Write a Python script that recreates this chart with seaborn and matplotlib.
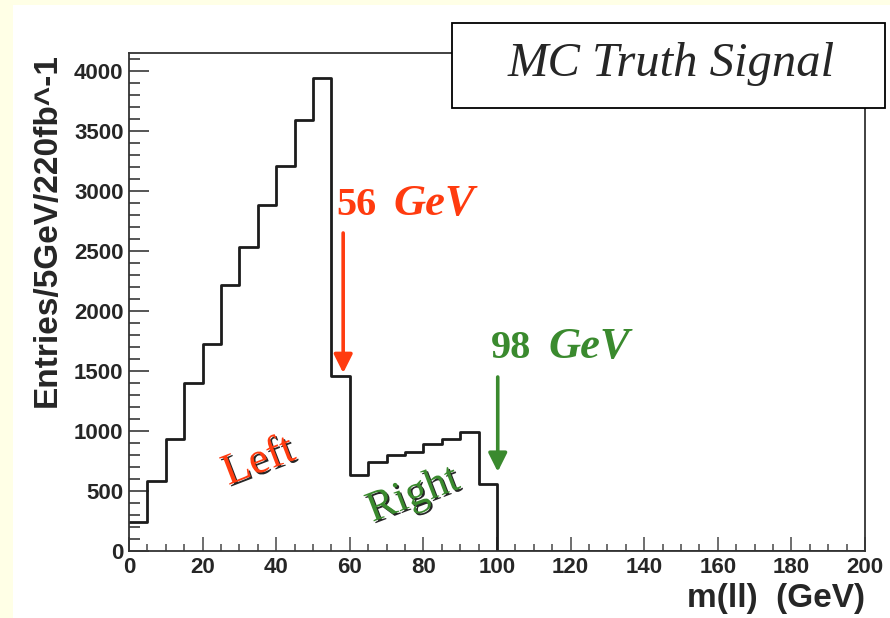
import numpy as np
import pandas as pd
import matplotlib
matplotlib.use("Agg")
import matplotlib.pyplot as plt
import matplotlib.patheffects as pe
from matplotlib.patches import Rectangle
from matplotlib.ticker import MultipleLocator
import seaborn as sns

# ---------------- data ----------------
bin_low = [0, 5, 10, 15, 20, 25, 30, 35, 40, 45, 50, 55, 60, 65, 70, 75, 80, 85, 90, 95]
entries = [240, 580, 930, 1400, 1725, 2220, 2535, 2885, 3210, 3590, 3940, 1455,
           635, 740, 800, 825, 895, 935, 995, 555]
bin_width = 5
bin_edges = list(range(0, 205, 5))
x_ticks = [0, 20, 40, 60, 80, 100, 120, 140, 160, 180, 200]
y_ticks = [0, 500, 1000, 1500, 2000, 2500, 3000, 3500, 4000]
x_label = "m(ll)  (GeV)"
y_label = "Entries/5GeV/220fb^-1"
title_text = "MC Truth Signal"
edge_left, edge_right = 56, 98
left_label, right_label = "Left", "Right"

# ---------------- style ----------------
sns.set_style("ticks")
plt.rcParams["font.family"] = ["Liberation Sans", "DejaVu Sans"]

RED = "#ff3b0f"
GREEN = "#3a8a2e"
CREAM = "#ffffe6"
SANS = "Liberation Sans"
SERIF = "Liberation Serif"

W, H = 890, 618
fig = plt.figure(figsize=(W / 100, H / 100), dpi=100, facecolor=CREAM)
# white panel behind the pad
fig.patches.append(Rectangle((13 / W, 0), 1 - 13 / W, 1 - 5 / H, transform=fig.transFigure,
                             facecolor="white", edgecolor="none", zorder=-10))

ax = fig.add_axes([129 / W, 1 - 551 / H, (865 - 129) / W, (551 - 53) / H])
ax.set_facecolor("white")

df = pd.DataFrame({"mll": np.array(bin_low) + bin_width / 2, "entries": entries})
sns.histplot(data=df, x="mll", weights="entries", bins=bin_edges, element="step",
             fill=False, color="#1c1c1c", linewidth=2.0, ax=ax)

ax.set_xlim(0, 200)
ax.set_ylim(0, 4150)
ax.set_xticks(x_ticks)
ax.set_yticks(y_ticks)
ax.xaxis.set_minor_locator(MultipleLocator(5))
ax.yaxis.set_minor_locator(MultipleLocator(100))
ax.tick_params(axis="y", which="major", direction="in", length=14.5, width=1.4,
               color="#555555", labelsize=16, pad=4)
ax.tick_params(axis="y", which="minor", direction="in", length=8, width=1.4, color="#555555")
ax.tick_params(axis="x", which="major", direction="in", length=10, width=1.2,
               color="#555555", labelsize=16, pad=4)
ax.tick_params(axis="x", which="minor", direction="in", length=5, width=1.2, color="#555555")
for lab in ax.get_xticklabels() + ax.get_yticklabels():
    lab.set_fontweight("bold")
    lab.set_fontfamily(SANS)
for s in ax.spines.values():
    s.set_visible(True)
    s.set_color("#333333")
    s.set_linewidth(1.3)

ax.set_xlabel(x_label, loc="right", fontsize=24, fontweight="bold", family=SANS, labelpad=4)
ax.set_ylabel(y_label, loc="top", fontsize=24, fontweight="bold", family=SANS, labelpad=8)

# title box (figure pixels)
fig.patches.append(Rectangle((452 / W, 1 - 108 / H), (885 - 452) / W, (108 - 23) / H,
                             transform=fig.transFigure, facecolor="white",
                             edgecolor="black", linewidth=1.3, zorder=5))
fig.text(671 / W, 1 - 64 / H, title_text, ha="center", va="center", fontsize=35,
         family=SERIF, style="italic", zorder=6)

# edge labels and arrows
def edge_note(xval, ytext, ytop, ybot, color):
    t1 = ax.text(xval + 0.4, ytext, f"{xval}", color=color, fontsize=29, fontweight="bold",
                 family=SERIF, ha="left", va="baseline")
    ax.annotate("GeV", xy=(1, 0), xycoords=t1, xytext=(12, 0), textcoords="offset points",
                color=color, fontsize=32, fontweight="bold", style="italic", family=SERIF,
                ha="left", va="bottom")
    ax.annotate("", xy=(xval + 2.2, ybot), xytext=(xval + 2.2, ytop),
                arrowprops=dict(arrowstyle="-|>", color=color, lw=2.6, mutation_scale=28,
                                shrinkA=0, shrinkB=0))

edge_note(edge_left, 2800, 2650, 1483, RED)
edge_note(edge_right, 1610, 1450, 660, GREEN)

shadow = [pe.SimplePatchShadow(offset=(1.3, -1.3), shadow_rgbFace="black", alpha=0.85), pe.Normal()]
ax.text(35.3, 745, left_label, color=RED, fontsize=32, family=SERIF, rotation=21,
        ha="center", va="center", path_effects=shadow)
ax.text(77.3, 465, right_label, color=GREEN, fontsize=31, family=SERIF, rotation=21,
        ha="center", va="center", path_effects=shadow)

fig.savefig("out.png", dpi=100, facecolor=CREAM)
